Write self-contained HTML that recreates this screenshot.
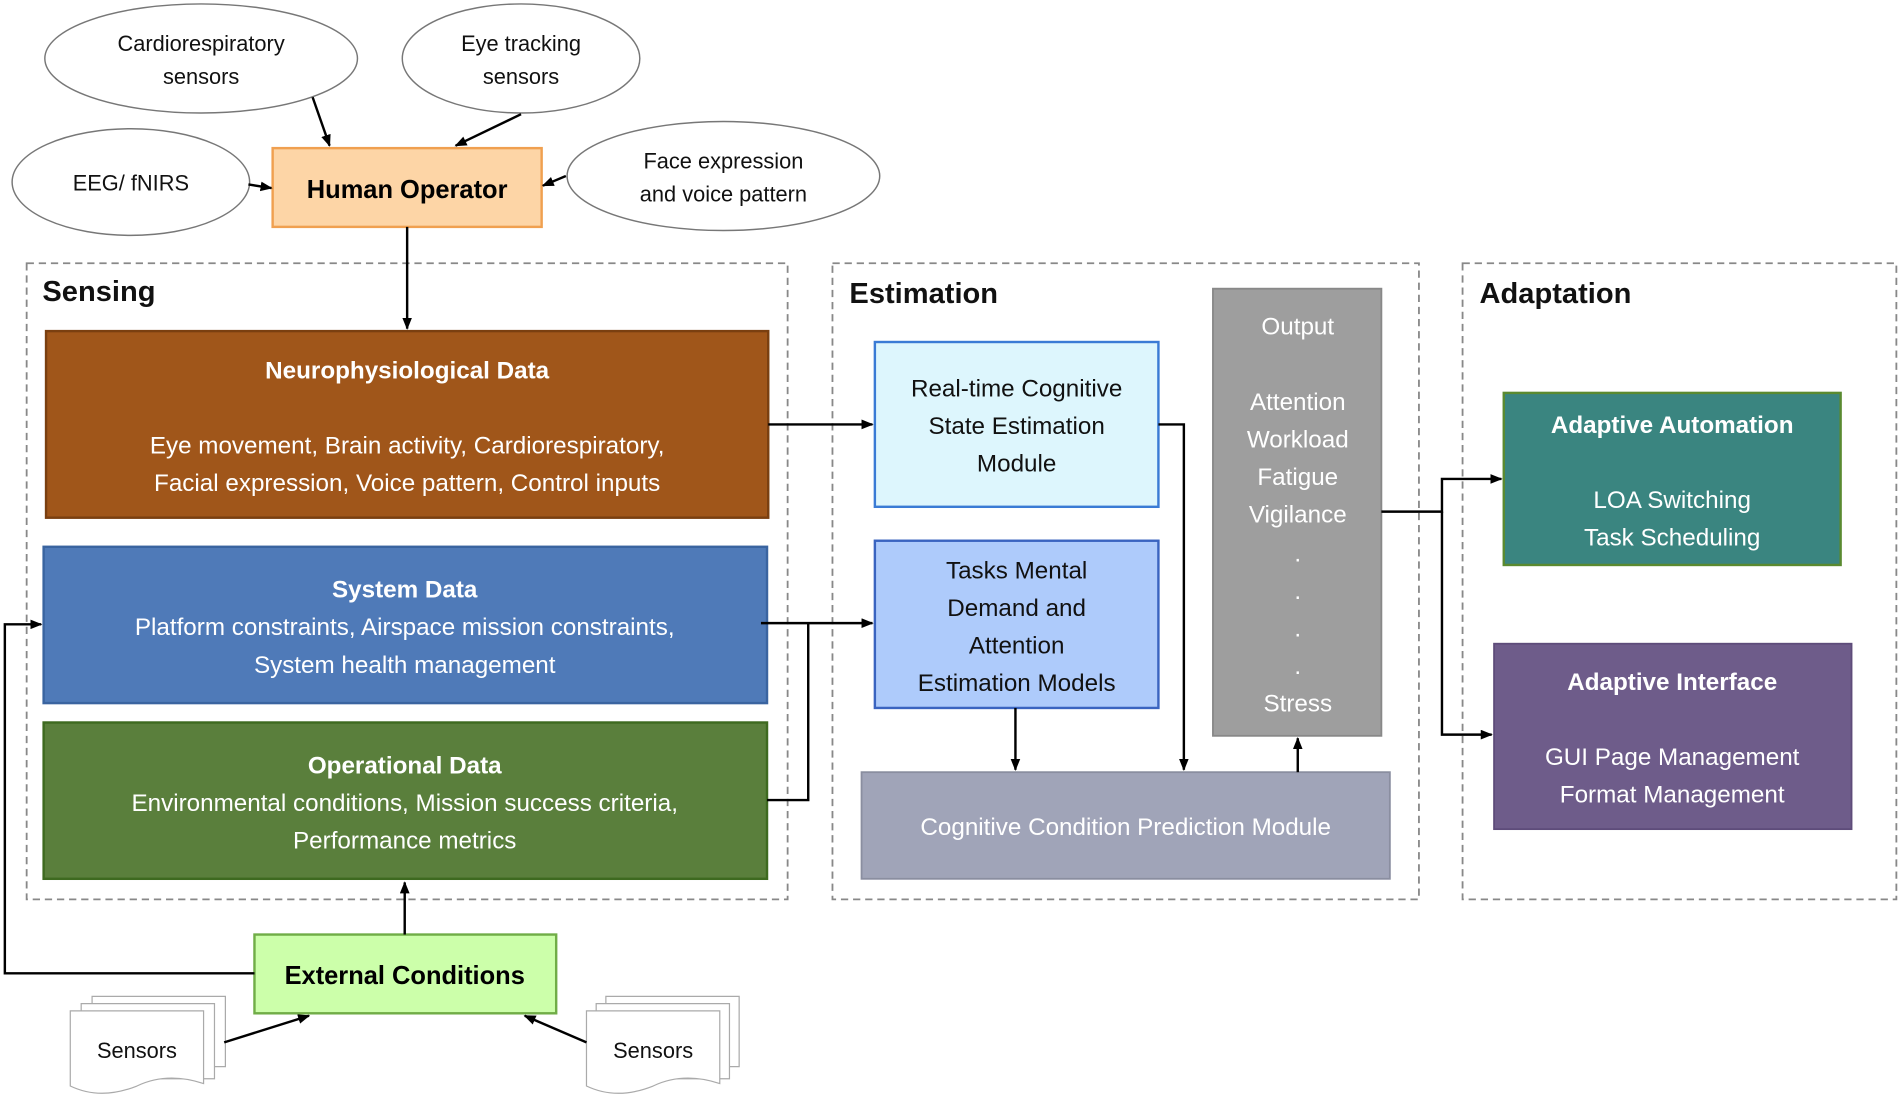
<!DOCTYPE html>
<html><head><meta charset="utf-8"><style>
html,body{margin:0;padding:0;background:#fff;}
svg{display:block;}
text{font-family:"Liberation Sans",sans-serif;}
</style></head><body>
<svg width="1900" height="1096" viewBox="0 0 1568 904" xmlns="http://www.w3.org/2000/svg">
<defs><marker id="a" markerWidth="10" markerHeight="8" refX="9" refY="4" orient="auto" markerUnits="userSpaceOnUse"><path d="M0,0 L10,4 L0,8 z" fill="#000"/></marker></defs>
<g fill="none" stroke="#888" stroke-width="1.5" stroke-dasharray="6,4">
<rect x="22" y="217" width="628" height="525"/>
<rect x="687" y="217" width="484" height="525"/>
<rect x="1207" y="217" width="358" height="525"/>
</g>
<g fill="#fff" stroke="#777" stroke-width="1.2">
<ellipse cx="166" cy="48" rx="129" ry="45"/>
<ellipse cx="430" cy="48" rx="98" ry="45"/>
<ellipse cx="108" cy="150" rx="98" ry="44"/>
<ellipse cx="597" cy="145" rx="129" ry="45"/>
</g>
<g font-size="18" text-anchor="middle" fill="#111">
<text x="166" y="42">Cardiorespiratory</text><text x="166" y="69">sensors</text>
<text x="430" y="42">Eye tracking</text><text x="430" y="69">sensors</text>
<text x="108" y="157">EEG/ fNIRS</text>
<text x="597" y="139">Face expression</text><text x="597" y="166">and voice pattern</text>
</g>
<rect x="225" y="122" width="222" height="65" fill="#fdd5a6" stroke="#f0a050" stroke-width="2"/>
<text x="336" y="163" font-size="21" font-weight="bold" text-anchor="middle">Human Operator</text>
<g font-size="24" font-weight="bold" fill="#111"><text x="35" y="248">Sensing</text><text x="701" y="250">Estimation</text><text x="1221" y="250">Adaptation</text></g>
<rect x="38" y="273" width="596" height="154" fill="#a0561a" stroke="#7a3f10" stroke-width="2"/>
<g fill="#fff" text-anchor="middle" font-size="20">
<text x="336" y="312" font-weight="bold">Neurophysiological Data</text>
<text x="336" y="374">Eye movement, Brain activity, Cardiorespiratory,</text>
<text x="336" y="405">Facial expression, Voice pattern, Control inputs</text>
</g>
<rect x="36" y="451" width="597" height="129" fill="#4f7ab8" stroke="#3a64a0" stroke-width="2"/>
<g fill="#fff" text-anchor="middle" font-size="20">
<text x="334" y="493" font-weight="bold">System Data</text>
<text x="334" y="524">Platform constraints, Airspace mission constraints,</text>
<text x="334" y="555">System health management</text>
</g>
<rect x="36" y="596" width="597" height="129" fill="#5a7f3c" stroke="#3e6a20" stroke-width="2"/>
<g fill="#fff" text-anchor="middle" font-size="20">
<text x="334" y="638" font-weight="bold">Operational Data</text>
<text x="334" y="669">Environmental conditions, Mission success criteria,</text>
<text x="334" y="700">Performance metrics</text>
</g>
<rect x="210" y="771" width="249" height="65" fill="#ccffaa" stroke="#70ad47" stroke-width="2"/>
<text x="334" y="812" font-size="21" font-weight="bold" text-anchor="middle">External Conditions</text>
<g fill="#fff" stroke="#aaa" stroke-width="1">
<path d="M76,822 h110 v58 h-110z"/><path d="M67,828 h110 v62 h-110z"/>
<path d="M58,834 h110 v60 q-30,-10 -55,2 q-30,12 -55,0z"/>
<path d="M500,822 h110 v58 h-110z"/><path d="M492,828 h110 v62 h-110z"/>
<path d="M484,834 h110 v60 q-30,-10 -55,2 q-30,12 -55,0z"/>
</g>
<g font-size="18" text-anchor="middle" fill="#111"><text x="113" y="873">Sensors</text><text x="539" y="873">Sensors</text></g>
<rect x="722" y="282" width="234" height="136" fill="#ddf6fd" stroke="#3a7bd5" stroke-width="2"/>
<g font-size="20" text-anchor="middle" fill="#111"><text x="839" y="327">Real-time Cognitive</text><text x="839" y="358">State Estimation</text><text x="839" y="389">Module</text></g>
<rect x="722" y="446" width="234" height="138" fill="#aecbfb" stroke="#3a64c0" stroke-width="2"/>
<g font-size="20" text-anchor="middle" fill="#111"><text x="839" y="477">Tasks Mental</text><text x="839" y="508">Demand and</text><text x="839" y="539">Attention</text><text x="839" y="570">Estimation Models</text></g>
<rect x="1001" y="238" width="139" height="369" fill="#9e9e9e" stroke="#888" stroke-width="1.5"/>
<g font-size="20" text-anchor="middle" fill="#fff"><text x="1071" y="276">Output</text><text x="1071" y="338">Attention</text><text x="1071" y="369">Workload</text><text x="1071" y="400">Fatigue</text><text x="1071" y="431">Vigilance</text><text x="1071" y="463">.</text><text x="1071" y="494">.</text><text x="1071" y="525">.</text><text x="1071" y="556">.</text><text x="1071" y="587">Stress</text></g>
<rect x="711" y="637" width="436" height="88" fill="#a0a4b8" stroke="#8a8ea0" stroke-width="1.5"/>
<text x="929" y="689" font-size="20" text-anchor="middle" fill="#fff">Cognitive Condition Prediction Module</text>
<rect x="1241" y="324" width="278" height="142" fill="#3a8580" stroke="#5a8a30" stroke-width="2"/>
<g fill="#fff" text-anchor="middle" font-size="20"><text x="1380" y="357" font-weight="bold">Adaptive Automation</text><text x="1380" y="419">LOA Switching</text><text x="1380" y="450">Task Scheduling</text></g>
<rect x="1233" y="531" width="295" height="153" fill="#6e5c8a" stroke="#5e4c7a" stroke-width="1.5"/>
<g fill="#fff" text-anchor="middle" font-size="20"><text x="1380" y="569" font-weight="bold">Adaptive Interface</text><text x="1380" y="631">GUI Page Management</text><text x="1380" y="662">Format Management</text></g>
<g fill="none" stroke="#000" stroke-width="2">
<path d="M258,80 L272,120" marker-end="url(#a)"/>
<path d="M430,94 L376,120" marker-end="url(#a)"/>
<path d="M205,152 L224,155" marker-end="url(#a)"/>
<path d="M467,145 L448,153" marker-end="url(#a)"/>
<path d="M336,187 V271" marker-end="url(#a)"/>
<path d="M634,350 H720" marker-end="url(#a)"/>
<path d="M628,514 H720" marker-end="url(#a)"/>
<path d="M633,660 H667 V514"/>
<path d="M956,350 H977 V635" marker-end="url(#a)"/>
<path d="M838,584 V635" marker-end="url(#a)"/>
<path d="M1071,637 V609" marker-end="url(#a)"/>
<path d="M1140,422 H1190 V395 H1239" marker-end="url(#a)"/>
<path d="M1190,422 V606 H1231" marker-end="url(#a)"/>
<path d="M334,771 V728" marker-end="url(#a)"/>
<path d="M210,803 H4 V515 H34" marker-end="url(#a)"/>
<path d="M185,860 L255,838" marker-end="url(#a)"/>
<path d="M484,860 L433,838" marker-end="url(#a)"/>
</g>
</svg>
</body></html>
